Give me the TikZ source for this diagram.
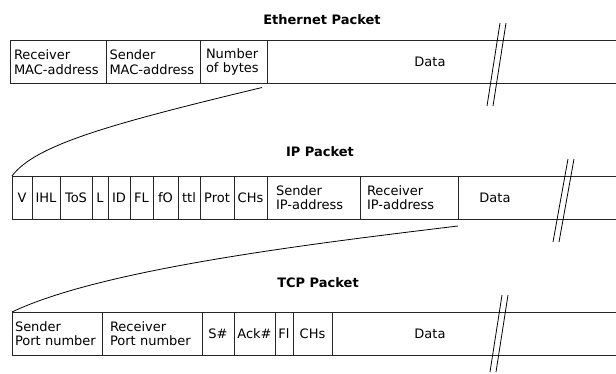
\documentclass[tikz,border=0pt]{standalone}
\usepackage{fontspec}
\setmainfont{DejaVu Sans}
\usetikzlibrary{positioning}

\tikzset{
  field/.style={draw=black!85, line width=1pt, minimum height=43pt, inner sep=0pt,
    outer sep=0pt, align=left, font=\fontsize{13}{14.5}\selectfont},
  rest/.style={field, draw=none},
  edge/.style={draw=black!85, line width=1pt},
  title/.style={font=\fontsize{13}{14.5}\selectfont\bfseries},
  cut/.style={line width=0.8pt},
  link/.style={line width=0.8pt}
}

\begin{document}
\begin{tikzpicture}[x=1pt, y=-1pt]
  \useasboundingbox (0,0) rectangle (616,373);
  \coordinate (rim) at (616,0);

  % Ethernet
  \node[title] (ethtitle) at (322,20) {Ethernet Packet};
  \node[field, minimum width=96pt, text width=88pt, anchor=west] (ethrecv) at (10,62) {Receiver\\MAC-address};
  \node[field, minimum width=94pt, text width=87pt, right=0pt of ethrecv] (ethsend) {Sender\\MAC-address};
  \node[field, minimum width=67pt, text width=55pt, right=0pt of ethsend] (ethlen) {Number\\of bytes};
  \node[rest, minimum width=326pt, right=0pt of ethlen] (ethdata) {Data};
  \draw[edge] (ethdata.north west) -- (ethdata.north west -| rim)
              (ethdata.south west) -- (ethdata.south west -| rim);
  \draw[cut] (500,23) -- (487,106) (506,23) -- (493,106);

  % IP
  \node[title] (iptitle) at (320,152) {IP Packet};
  \node[field, minimum width=20pt, anchor=west] (ipv) at (12,197.5) {V};
  \node[field, minimum width=28pt, right=0pt of ipv] (ipihl) {IHL};
  \node[field, minimum width=32pt, right=0pt of ipihl] (iptos) {ToS};
  \node[field, minimum width=16pt, right=0pt of iptos] (ipl) {L};
  \node[field, minimum width=22pt, right=0pt of ipl] (ipid) {ID};
  \node[field, minimum width=23pt, right=0pt of ipid] (ipfl) {FL};
  \node[field, minimum width=25pt, right=0pt of ipfl] (ipfo) {fO};
  \node[field, minimum width=22pt, right=0pt of ipfo] (ipttl) {ttl};
  \node[field, minimum width=34pt, right=0pt of ipttl] (ipprot) {Prot};
  \node[field, minimum width=33pt, right=0pt of ipprot] (ipchs) {CHs};
  \node[field, minimum width=93pt, text width=75pt, right=0pt of ipchs] (ipsend) {Sender\\IP-address};
  \node[field, minimum width=98pt, text width=84pt, right=0pt of ipsend] (iprecv) {Receiver\\IP-address};
  \node[rest, minimum width=74pt, right=0pt of iprecv] (ipdata) {Data};
  \draw[edge] (ipdata.north west) -- (ipdata.north west -| rim)
              (ipdata.south west) -- (ipdata.south west -| rim);
  \draw[cut] (568,159) -- (553,242) (574,159) -- (559,242);

  % TCP
  \node[title] (tcptitle) at (318,283) {TCP Packet};
  \node[field, minimum width=90pt, text width=84pt, anchor=west] (tcpsend) at (12,333.5) {Sender\\Port number};
  \node[field, minimum width=100pt, text width=84pt, right=0pt of tcpsend] (tcprecv) {Receiver\\Port number};
  \node[field, minimum width=32pt, right=0pt of tcprecv] (tcpseq) {S\#};
  \node[field, minimum width=41pt, right=0pt of tcpseq] (tcpack) {Ack\#};
  \node[field, minimum width=18pt, right=0pt of tcpack] (tcpfl) {Fl};
  \node[field, minimum width=39pt, right=0pt of tcpfl] (tcpchs) {CHs};
  \node[rest, minimum width=196pt, right=0pt of tcpchs] (tcpdata) {Data};
  \draw[edge] (tcpdata.north west) -- (tcpdata.north west -| rim)
              (tcpdata.south west) -- (tcpdata.south west -| rim);
  \draw[cut] (502,295) -- (490,372) (508,295) -- (496,372);

  % Links
  \draw[link] ([shift={(-5,4)}]ethlen.south east)
    .. controls (110,124) and (35,145) .. (ipv.north west);
  \draw[link] ([shift={(0,7)}]iprecv.south east)
    .. controls (300,245) and (100,270) .. (tcpsend.north west);
\end{tikzpicture}
\end{document}
